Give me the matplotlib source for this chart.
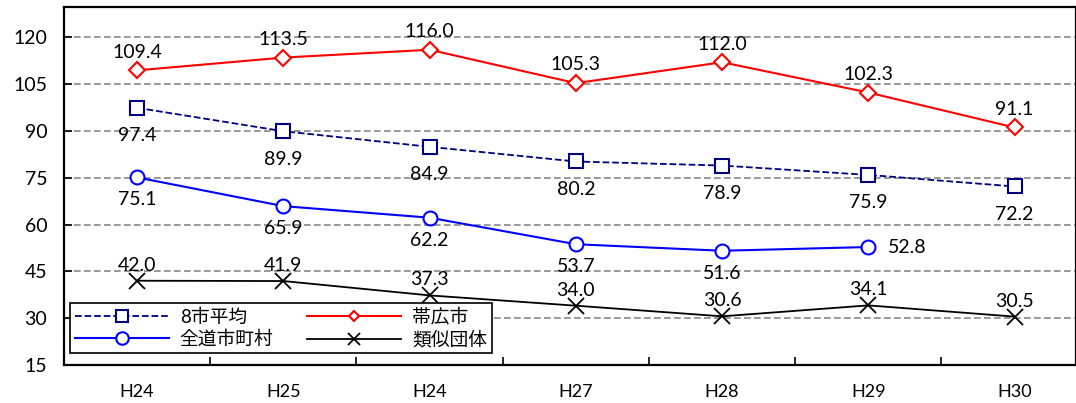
import matplotlib
matplotlib.use("Agg")
import matplotlib.pyplot as plt
import numpy as np

plt.rcParams['font.family'] = ['Lato', 'Noto Sans CJK JP', 'DejaVu Sans']

years = ["H24", "H25", "H24", "H27", "H28", "H29", "H30"]
avg8 = [97.4, 89.9, 84.9, 80.2, 78.9, 75.9, 72.2]
obihiro = [109.4, 113.5, 116.0, 105.3, 112.0, 102.3, 91.1]
zendo = [75.1, 65.9, 62.2, 53.7, 51.6, 52.8]
ruiji = [42.0, 41.9, 37.3, 34.0, 30.6, 34.1, 30.5]

x = np.arange(len(years))

fig = plt.figure(figsize=(10.76, 4.03), dpi=100)
ax = fig.add_axes([64/1076, 1-365/403, (1076-64)/1076, (365-7)/403])

ax.set_ylim(15, 129.7)
ax.set_xlim(-0.5, 6.42)
ax.set_yticks(np.arange(15, 121, 15))
ax.set_xticks(x)
ax.set_xticklabels(years)
ax.set_xticks(np.arange(-0.5, 6.5, 1), minor=True)
ax.tick_params(axis='x', which='major', length=0, pad=14, labelsize=13)
ax.tick_params(axis='x', which='minor', length=6, width=1.2, direction='in')
ax.tick_params(axis='y', length=6, width=1.2, direction='in', pad=12, labelsize=14)
for s in ax.spines.values():
    s.set_linewidth(1.6)
ax.yaxis.grid(True, linestyle=(0, (4, 2)), color='#888888', linewidth=1.2)
ax.set_axisbelow(True)

l1, = ax.plot(x, avg8, '--', color='#000080', marker='s', markersize=10,
              markerfacecolor='white', markeredgewidth=1.5, linewidth=1.3, label='8市平均')
l2, = ax.plot(x, obihiro, '-', color='red', marker='D', markersize=8,
              markerfacecolor='white', markeredgewidth=1.5, linewidth=1.5, label='帯広市')
l3, = ax.plot(x[:len(zendo)], zendo, '-', color='blue', marker='o', markersize=10,
              markerfacecolor='white', markeredgewidth=1.5, linewidth=1.5, label='全道市町村')
l4, = ax.plot(x, ruiji, '-', color='black', marker='x', markersize=11,
              markeredgewidth=1.3, linewidth=1.3, label='類似団体')

fs = 14
for i, v in enumerate(avg8):
    ax.annotate(f"{v:.1f}", (i, v), xytext=(0, -14), textcoords='offset points',
                ha='center', va='top', fontsize=fs)
for i, v in enumerate(obihiro):
    ax.annotate(f"{v:.1f}", (i, v), xytext=(0, 7), textcoords='offset points',
                ha='center', va='bottom', fontsize=fs)
for i, v in enumerate(zendo):
    if i == len(zendo) - 1:
        ax.annotate(f"{v:.1f}", (i, v), xytext=(14, 0), textcoords='offset points',
                    ha='left', va='center', fontsize=fs)
    else:
        ax.annotate(f"{v:.1f}", (i, v), xytext=(0, -10), textcoords='offset points',
                    ha='center', va='top', fontsize=fs)
for i, v in enumerate(ruiji):
    ax.annotate(f"{v:.1f}", (i, v), xytext=(0, 5), textcoords='offset points',
                ha='center', va='bottom', fontsize=fs)

leg = ax.legend([l1, l3, l2, l4], ['8市平均', '全道市町村', '帯広市', '類似団体'],
                ncol=2, loc='lower left', bbox_to_anchor=(0.006, 0.034),
                borderaxespad=0,
                fontsize=13.5, frameon=True, fancybox=False, edgecolor='black',
                framealpha=1, handlelength=5.0, columnspacing=1.8, borderpad=0.25,
                labelspacing=0.25, handletextpad=0.6)
leg.get_frame().set_linewidth(1.2)
sizes = [8, 9, 5, 8]
for h, ms in zip(leg.legend_handles, sizes):
    h.set_markersize(ms)

fig.savefig("out.png", dpi=100)
